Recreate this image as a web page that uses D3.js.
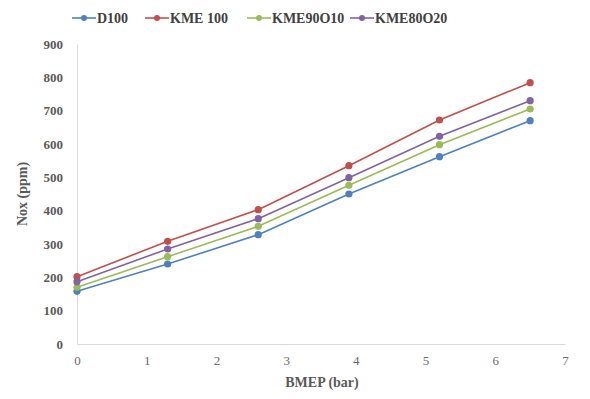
<!DOCTYPE html>
<html><head><meta charset="utf-8">
<script src="https://cdn.jsdelivr.net/npm/d3@7"></script>
<style>body{margin:0;background:#fff}svg{display:block}</style>
</head><body><svg id="c" width="590" height="399"></svg>
<script>
const xValues = [0, 1.3, 2.6, 3.9, 5.2, 6.5];
const seriesNames = ["D100", "KME 100", "KME90O10", "KME80O20"];
const d100 = [158, 240, 328, 450, 562, 670];
const kme100 = [202, 308, 403, 535, 672, 784];
const kme90o10 = [170, 262, 353, 476, 598, 705];
const kme80o20 = [187, 285, 376, 499, 623, 730];
const xTicks = [0, 1, 2, 3, 4, 5, 6, 7];
const yTicks = [0, 100, 200, 300, 400, 500, 600, 700, 800, 900];
const colors = ["#4F81BD", "#C0504D", "#9BBB59", "#8064A2"];

const series = [d100, kme100, kme90o10, kme80o20].map((v, i) => ({name: seriesNames[i], values: v, color: colors[i]}));

const svg = d3.select("#c");
const x = d3.scaleLinear().domain([0, 7]).range([77, 565]);
const y = d3.scaleLinear().domain([0, 900]).range([344, 44]);
const font = "Liberation Serif";

// axes
const yAxis = svg.append("g").attr("transform", `translate(${x(0)},0)`)
  .call(d3.axisLeft(y).tickValues(yTicks).tickSize(0).tickPadding(14));
yAxis.select(".domain").attr("stroke", "#d9d9d9");
yAxis.selectAll("text").attr("font-family", font).attr("font-weight", "bold").attr("font-size", 13).attr("fill", "#595959");

const xAxis = svg.append("g").attr("transform", `translate(0,${y(0)})`)
  .call(d3.axisBottom(x).tickValues(xTicks).tickSize(0).tickPadding(12).tickFormat(d3.format("d")));
xAxis.select(".domain").attr("stroke", "#d9d9d9");
xAxis.selectAll("text").attr("font-family", font).attr("font-size", 13).attr("fill", "#6a6a6a");

// titles
svg.append("text").attr("x", 322).attr("y", 387).attr("text-anchor", "middle")
  .attr("font-family", font).attr("font-weight", "bold").attr("font-size", 14).attr("fill", "#595959").text("BMEP (bar)");
svg.append("text").attr("transform", "translate(27,194) rotate(-90)").attr("text-anchor", "middle")
  .attr("font-family", font).attr("font-weight", "bold").attr("font-size", 14).attr("fill", "#595959").text("Nox (ppm)");

// lines
const line = d3.line().x((d, i) => x(xValues[i])).y(d => y(d));
series.forEach(s => {
  svg.append("path").datum(s.values).attr("d", line).attr("fill", "none")
    .attr("stroke", s.color).attr("stroke-width", 1.6);
  svg.append("g").selectAll("circle").data(s.values).join("circle")
    .attr("cx", (d, i) => x(xValues[i])).attr("cy", d => y(d)).attr("r", 3.6).attr("fill", s.color);
});

// legend
const legX = [72, 145, 247, 350];
const lg = svg.append("g");
series.forEach((s, i) => {
  const g = lg.append("g").attr("transform", `translate(${legX[i]},18)`);
  g.append("line").attr("x1", 0).attr("x2", 24).attr("stroke", s.color).attr("stroke-width", 1.6);
  g.append("circle").attr("cx", 12).attr("r", 3).attr("fill", s.color);
  g.append("text").attr("x", 25).attr("y", 5).attr("font-family", font).attr("font-weight", "bold")
    .attr("font-size", 14).attr("fill", "#404040").text(s.name);
});
</script></body></html>
